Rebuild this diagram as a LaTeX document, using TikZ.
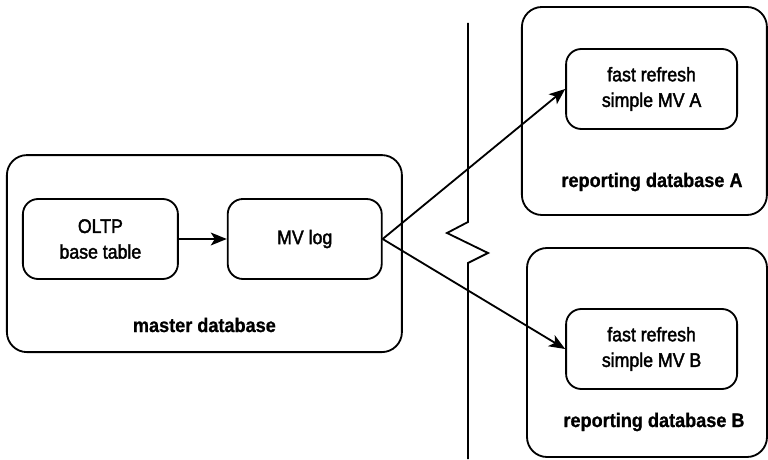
\documentclass[tikz,border=0pt]{standalone}
\usepackage{fontspec}
\setmainfont{Liberation Sans}[FakeStretch=0.9]
\newfontfamily\medfont{Liberation Sans}[FakeStretch=0.9, FakeBold=2]
\newfontfamily\lblfont{Liberation Sans Bold}[FakeStretch=0.92, FakeBold=0.8]
\usepackage{tikz}
\usetikzlibrary{arrows.meta,positioning}

\begin{document}
\begin{tikzpicture}[
    line width=1.3pt,
    every node/.style={font=\fontsize{14}{18.2}\selectfont\medfont},
    outer/.style={draw, rounded corners=0.5cm},
    inner/.style={draw, rounded corners=0.38cm, minimum width=3.875cm, minimum height=2cm, align=center},
    dblabel/.style={font=\fontsize{14}{18.2}\selectfont\lblfont},
    arrow/.style={-{Stealth[length=4mm, width=3.2mm, inset=1mm]}}
]
\useasboundingbox (0,0) rectangle (19.2,-11.5);

% master side
\node[outer, minimum width=9.875cm, minimum height=4.925cm] (master) at (5.11,-6.34) {};
\node[inner] (oltp) at (2.51,-5.975) {OLTP\\base table};
\node[inner, minimum width=3.85cm, right=1.2cm of oltp] (mvlog) {MV log};
\node[dblabel] (masterlbl) at (5.11,-8.125) {master database};

% reporting side
\node[outer, minimum width=6.125cm, minimum height=5.2cm] (repA) at (16.11,-2.775) {};
\node[inner, minimum width=4.275cm] (mvA) at (16.29,-2.225) {fast refresh\\simple MV A};
\node[dblabel] (repAlbl) at (16.3,-4.55) {reporting database A};

\node[outer, minimum width=6.0cm, minimum height=5.225cm] (repB) at (16.175,-8.8125) {};
\node[inner, minimum width=4.275cm] (mvB) at (16.29,-8.725) {fast refresh\\simple MV B};
\node[dblabel] (repBlbl) at (16.35,-10.55) {reporting database B};

% network break
\draw (11.7,-0.575) -- (11.7,-5.55) -- (11.175,-5.825) -- (12.2,-6.325) -- (11.7,-6.575) -- (11.7,-11.475);

\draw[arrow] (oltp) -- (mvlog);
\draw[arrow] (mvlog.east) -- (mvA.west);
\draw[arrow] (mvlog.east) -- (mvB.west);
\end{tikzpicture}
\end{document}
